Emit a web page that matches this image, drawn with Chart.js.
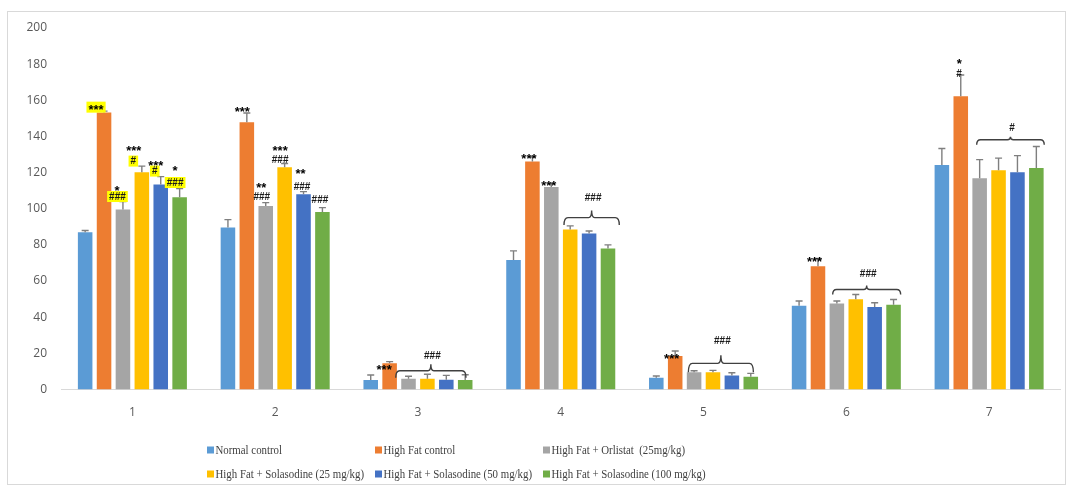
<!DOCTYPE html>
<html><head><meta charset="utf-8">
<script src="https://cdn.jsdelivr.net/npm/chart.js@4.4.1/dist/chart.umd.min.js"></script>
<style>html,body{margin:0;padding:0;background:#fff;} #wrap{width:1072px;height:488px;position:relative;}</style>
</head><body><div id="wrap"><canvas id="c" width="1072" height="488"></canvas></div>
<script>
// ---- data ----
const categories = ['1', '2', '3', '4', '5', '6', '7'];
const yTickMin = 0, yTickMax = 200, yTickStep = 20;
const seriesNames = ['Normal control', 'High Fat control', 'High Fat + Orlistat  (25mg/kg)',
  'High Fat + Solasodine (25 mg/kg)', 'High Fat + Solasodine (50 mg/kg)', 'High Fat + Solasodine (100 mg/kg)'];
const normalControl    = [87.0, 89.6, 5.2, 71.7, 6.5, 46.3, 124.2];
const normalControlSD  = [1.0, 4.4, 2.8, 5.0, 1.0, 2.7, 9.1];
const highFatControl   = [153.2, 147.8, 14.5, 126.2, 18.5, 68.2, 162.3];
const highFatControlSD = [0.8, 5.2, 0.9, 2.4, 2.8, 4.3, 11.7];
const orlistat25       = [99.6, 101.5, 6.0, 112.0, 9.5, 47.6, 116.9];
const orlistat25SD     = [4.4, 1.9, 1.3, 1.9, 0.9, 1.4, 10.3];
const solasodine25     = [120.2, 122.9, 6.0, 88.5, 9.5, 50.0, 121.3];
const solasodine25SD   = [3.4, 2.1, 2.4, 2.0, 1.1, 2.6, 6.7];
const solasodine50     = [113.4, 108.0, 5.4, 86.3, 7.8, 45.7, 120.2];
const solasodine50SD   = [4.4, 1.5, 2.4, 1.4, 1.5, 2.3, 9.2];
const solasodine100    = [106.4, 98.2, 5.2, 78.0, 7.1, 46.9, 122.5];
const solasodine100SD  = [4.8, 2.4, 3.0, 2.0, 1.8, 2.9, 11.9];

// significance marks: category index, series index, text, highlighted
const marks = [
  {c:0, s:1, t:'***', hl:true,  dx:-8,  dy:-4},
  {c:0, s:2, t:'*',   hl:false, dx:-6,  dy:-13.5},
  {c:0, s:2, t:'###', hl:true,  dx:-5.5,dy:-5},
  {c:0, s:3, t:'***', hl:false, dx:-8,  dy:-17.5},
  {c:0, s:3, t:'#',   hl:true,  dx:-8.5,dy:-5},
  {c:0, s:4, t:'***', hl:false, dx:-5,  dy:-13.5},
  {c:0, s:4, t:'#',   hl:true,  dx:-6,  dy:-5.5},
  {c:0, s:5, t:'*',   hl:false, dx:-4.5,dy:-20},
  {c:0, s:5, t:'###', hl:true,  dx:-4.5,dy:-6},
  {c:1, s:1, t:'***', hl:false, dx:-4.5,dy:-4},
  {c:1, s:2, t:'**',  hl:false, dx:-4.5,dy:-17},
  {c:1, s:2, t:'###', hl:false, dx:-4,  dy:-5.5},
  {c:1, s:3, t:'***', hl:false, dx:-4.5,dy:-15.5},
  {c:1, s:3, t:'###', hl:false, dx:-4.5,dy:-4},
  {c:1, s:4, t:'**',  hl:false, dx:-3,  dy:-20},
  {c:1, s:4, t:'###', hl:false, dx:-1.5,dy:-5},
  {c:1, s:5, t:'###', hl:false, dx:-2.5,dy:-8},
  {c:2, s:1, t:'***', hl:false, dx:-5.5,dy:5.5},
  {c:3, s:1, t:'***', hl:false, dx:-3.5,dy:-0.5},
  {c:3, s:2, t:'***', hl:false, dx:-2.5,dy:-0.5},
  {c:4, s:1, t:'***', hl:false, dx:-3.5,dy:5},
  {c:5, s:1, t:'***', hl:false, dx:-3.5,dy:1},
  {c:6, s:1, t:'*',   hl:false, dx:-1.5,dy:-13.5},
  {c:6, s:1, t:'#',   hl:false, dx:-1.8,dy:-1.7}
];
// group braces: category, first series, last series, label
const braces = [
  {c:2, from:2, to:5, t:'###', gap:3.6, dxL:-12.8, dxR:0.8,  drop:7,  tip:6.5, up:15},
  {c:3, from:3, to:5, t:'###', gap:8.3, dxL:-6.2,  dxR:11.3, drop:7.5,tip:7,   up:20},
  {c:4, from:2, to:5, t:'###', gap:7,   dxL:-5.7,  dxR:2.6,  drop:9,  tip:8,   up:23},
  {c:5, from:2, to:5, t:'###', gap:5,   dxL:-4.2,  dxR:7.1,  drop:5,  tip:4,   up:16},
  {c:6, from:2, to:5, t:'#',   gap:6.8, dxL:-3,    dxR:7.9,  drop:5,  tip:3,   up:12}
];

const seriesValues = [normalControl, highFatControl, orlistat25, solasodine25, solasodine50, solasodine100];
const seriesSD = [normalControlSD, highFatControlSD, orlistat25SD, solasodine25SD, solasodine50SD, solasodine100SD];
const colors = ['#5B9BD5', '#ED7D31', '#A5A5A5', '#FFC000', '#4472C4', '#70AD47'];

function errTopPx(chart, s, c) {
  return chart.scales.y.getPixelForValue(seriesValues[s][c] + seriesSD[s][c]);
}

const overlay = {
  id: 'overlay',
  beforeDraw(chart) {
    const ctx = chart.ctx;
    ctx.save();
    ctx.fillStyle = '#fff';
    ctx.fillRect(0, 0, chart.width, chart.height);
    ctx.strokeStyle = '#d9d9d9';
    ctx.lineWidth = 1;
    ctx.strokeRect(7.5, 11.5, 1058, 473);
    ctx.restore();
  },
  afterDatasetsDraw(chart) {
    const ctx = chart.ctx;
    ctx.save();
    // error bars
    ctx.strokeStyle = '#7f7f7f';
    ctx.lineWidth = 1.4;
    chart.data.datasets.forEach((ds, s) => {
      chart.getDatasetMeta(s).data.forEach((bar, c) => {
        const top = errTopPx(chart, s, c);
        ctx.beginPath();
        ctx.moveTo(bar.x, bar.y);
        ctx.lineTo(bar.x, top);
        ctx.moveTo(bar.x - 3.5, top);
        ctx.lineTo(bar.x + 3.5, top);
        ctx.stroke();
      });
    });
    // marks
    ctx.textAlign = 'center';
    ctx.textBaseline = 'middle';
    marks.forEach(m => {
      const bar = chart.getDatasetMeta(m.s).data[m.c];
      const x = bar.x + m.dx;
      const y = errTopPx(chart, m.s, m.c) + m.dy;
      const isStar = m.t.indexOf('*') >= 0;
      ctx.font = isStar ? 'bold 13px "Liberation Sans"' : 'bold 10px "Liberation Sans"';
      const w = ctx.measureText(m.t).width;
      if (m.hl) {
        ctx.fillStyle = '#FFFF00';
        ctx.fillRect(x - w / 2 - 2, y - 5.5, w + 4, 11);
      }
      ctx.fillStyle = isStar ? '#000' : '#1a1a1a';
      ctx.fillText(m.t, x, y + (isStar ? 3 : 0.5));
    });
    // braces
    ctx.strokeStyle = '#404040';
    ctx.lineWidth = 1.4;
    braces.forEach(b => {
      const metaL = chart.getDatasetMeta(b.from).data[b.c];
      const metaR = chart.getDatasetMeta(b.to).data[b.c];
      let minTop = Infinity;
      for (let s = b.from; s <= b.to; s++) minTop = Math.min(minTop, errTopPx(chart, s, b.c));
      const yH = minTop - b.gap;
      const xL = metaL.x + b.dxL, xR = metaR.x + b.dxR, xm = (xL + xR) / 2;
      const r = 4;
      ctx.beginPath();
      ctx.moveTo(xL, yH + b.drop);
      ctx.quadraticCurveTo(xL, yH, xL + r, yH);
      ctx.lineTo(xm - 3, yH);
      ctx.quadraticCurveTo(xm, yH, xm, yH - b.tip);
      ctx.quadraticCurveTo(xm, yH, xm + 3, yH);
      ctx.lineTo(xR - r, yH);
      ctx.quadraticCurveTo(xR, yH, xR, yH + b.drop);
      ctx.stroke();
      ctx.font = 'bold 10px "Liberation Sans"';
      ctx.fillStyle = '#1a1a1a';
      ctx.fillText(b.t, xm + 1.5, yH - b.up + 0.5);
    });
    ctx.restore();
  },
  afterDraw(chart) {
    // legend in three columns, two rows
    const ctx = chart.ctx;
    ctx.save();
    const colX = [207, 375, 543];
    const rowY = [450, 474];
    ctx.font = '13px "Liberation Serif"';
    ctx.textBaseline = 'middle';
    ctx.textAlign = 'left';
    const longest = Math.max(...chart.data.datasets.map(d => ctx.measureText(d.label).width));
    const sx = 154 / longest;
    chart.data.datasets.forEach((ds, i) => {
      const x = colX[i % 3], y = rowY[Math.floor(i / 3)];
      ctx.fillStyle = ds.backgroundColor;
      ctx.fillRect(x, y - 3.5, 7, 7);
      ctx.fillStyle = '#404040';
      ctx.save();
      ctx.translate(x + 8.5, y + 0.5);
      ctx.scale(sx, 1);
      ctx.fillText(ds.label, 0, 0);
      ctx.restore();
    });
    ctx.restore();
  }
};

new Chart(document.getElementById('c'), {
  type: 'bar',
  data: {
    labels: categories,
    datasets: seriesNames.map((name, i) => ({
      label: name,
      data: seriesValues[i],
      backgroundColor: colors[i],
      borderWidth: 0,
      categoryPercentage: 0.794,
      barPercentage: 0.77
    }))
  },
  options: {
    responsive: false,
    devicePixelRatio: 1,
    animation: false,
    layout: { padding: { top: 28, right: 11.5, left: 0, bottom: 0 } },
    plugins: { legend: { display: false }, tooltip: { enabled: false } },
    scales: {
      x: {
        grid: { display: false, drawTicks: false },
        border: { display: true, color: '#d9d9d9', width: 1 },
        ticks: { color: '#595959', font: { family: '"Open Sans"', size: 12 }, padding: 16.3 },
        afterFit(scale) { scale.height = 98.5; }
      },
      y: {
        min: yTickMin, max: yTickMax,
        grid: { display: false, drawTicks: false },
        border: { display: false },
        ticks: { stepSize: yTickStep, color: '#595959', font: { family: '"Open Sans"', size: 12 }, padding: 14 },
        afterFit(scale) { scale.width = 61; }
      }
    }
  },
  plugins: [overlay]
});
</script>
</body></html>
